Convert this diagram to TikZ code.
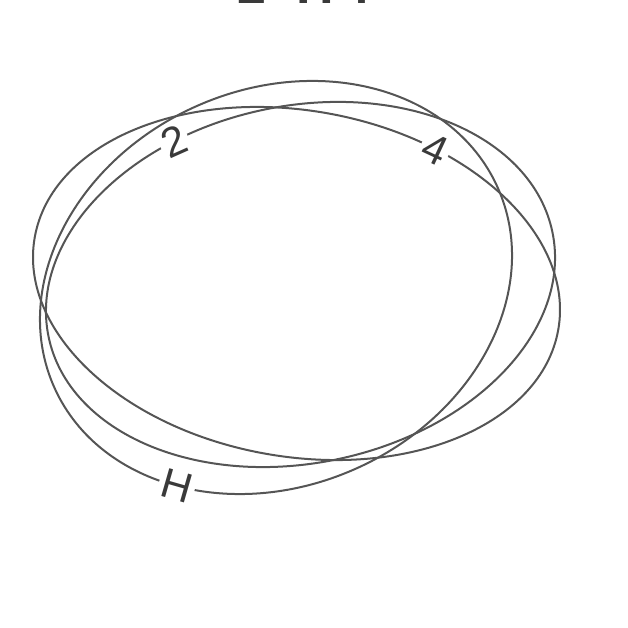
\documentclass[tikz,border=0pt]{standalone}
\usepackage{fontspec}
\setmainfont{Liberation Sans}
\definecolor{linegray}{HTML}{555555}
\definecolor{labelgray}{HTML}{3A3A3A}
\begin{document}
\begin{tikzpicture}[x=1pt,y=1pt]
\tikzset{
  ring/.style={draw=linegray, line width=2pt},
  lbl/.style={fill=white, inner sep=3pt, text=labelgray, font=\fontsize{42}{42}\selectfont},
  ttl/.style={inner sep=0pt, anchor=base west, text=labelgray, font=\fontsize{52}{52}\selectfont\bfseries}
}
\useasboundingbox (0,0) rectangle (628,628);
\clip (0,0) rectangle (628,628);
% ellipse with label 4
\begin{scope}[shift={(296.5,344.5)}, rotate=-10]
  \draw[ring] (0,0) ellipse [x radius=265.8, y radius=173];
  \node[lbl, rotate=-25] (l4) at (64.8:265.8 and 173) {4};
\end{scope}
% ellipse with label 2
\begin{scope}[shift={(300.5,343.5)}, rotate=11.75]
  \draw[ring] (0,0) ellipse [x radius=257.3, y radius=178.6];
  \node[lbl, rotate=24] (l2) at (111.6:257.3 and 178.6) {2};
\end{scope}
% ellipse with label H
\begin{scope}[shift={(276,340.5)}, rotate=24.6]
  \draw[ring] (0,0) ellipse [x radius=243.2, y radius=198];
  \node[lbl, rotate=-16] (lH) at (-135.3:243.2 and 198) {H};
\end{scope}
% cut-off title
\node[ttl] (t2) at (237,624.5) {2};
\node[ttl] (tH) at (296,624.5) {H};
\node[ttl] (t4) at (341,624.5) {4};
\end{tikzpicture}
\end{document}
